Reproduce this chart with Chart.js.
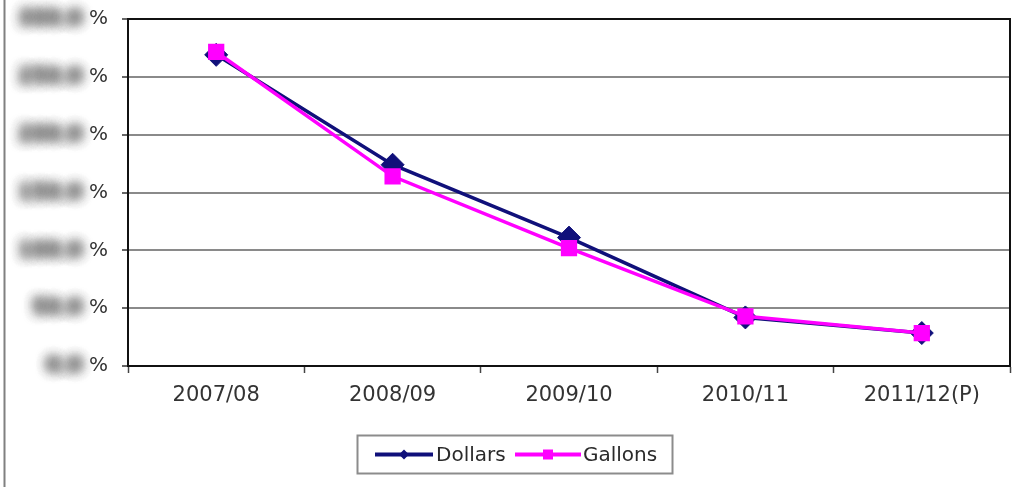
<!DOCTYPE html>
<html>
<head>
<meta charset="utf-8">
<script src="https://cdn.jsdelivr.net/npm/chart.js@4/dist/chart.umd.min.js"></script>
<style>
  html, body { margin: 0; padding: 0; background: #fff; }
  #wrap { width: 1016px; height: 487px; position: relative; }
</style>
</head>
<body>
<div id="wrap"><canvas id="c" width="1016" height="487"></canvas></div>
<script>
// Season labels and the two series (percent)
const seasons = ['2007/08', '2008/09', '2009/10', '2010/11', '2011/12(P)'];
const dollars = [269, 174, 111, 42, 28.5];
const gallons = [271.5, 164, 102, 43, 28.5];
const yTicks = [0, 50, 100, 150, 200, 250, 300];

const FONT = 'DejaVu Sans, Verdana, sans-serif';
const NAVY = '#10107a';
const MAGENTA = '#ff00ff';

// Frame, plot outline, softened y values and the boxed legend
const decorations = {
  id: 'decorations',
  afterDraw(chart) {
    const { ctx, chartArea: a, scales } = chart;
    ctx.save();

    // plot outline
    ctx.strokeStyle = '#111';
    ctx.lineWidth = 2;
    ctx.beginPath();
    ctx.moveTo(a.left, a.top);
    ctx.lineTo(a.right, a.top);
    ctx.lineTo(a.right, a.bottom);
    ctx.stroke();

    // left frame edge
    ctx.strokeStyle = '#808080';
    ctx.lineWidth = 2;
    ctx.beginPath();
    ctx.moveTo(4.5, 0);
    ctx.lineTo(4.5, 487);
    ctx.stroke();

    // y values, softened through a shadow cast from off-canvas text
    const SHIFT = 3000;
    ctx.font = 'bold 20px ' + FONT;
    ctx.textAlign = 'right';
    ctx.textBaseline = 'middle';
    ctx.fillStyle = '#000';
    ctx.shadowColor = 'rgba(110,110,110,0.9)';
    ctx.shadowBlur = 12;
    ctx.shadowOffsetX = SHIFT;
    ctx.shadowOffsetY = 0;
    yTicks.forEach(v => {
      const y = scales.y.getPixelForValue(v);
      for (let k = 0; k < 3; k++) ctx.fillText(v.toFixed(1), 82 - SHIFT, y);
    });
    ctx.shadowColor = 'transparent';
    ctx.shadowBlur = 0;
    ctx.shadowOffsetX = 0;

    // legend box
    const bx = 357.5, by = 435.5, bw = 315, bh = 38, cy = by + bh / 2;
    ctx.strokeStyle = '#8c8c8c';
    ctx.lineWidth = 2;
    ctx.strokeRect(bx, by, bw, bh);

    const ds = chart.data.datasets;
    const items = [
      { d: ds[0], x0: 375, x1: 433, tx: 436 },
      { d: ds[1], x0: 515, x1: 581, tx: 583 }
    ];
    ctx.font = '20px ' + FONT;
    ctx.textAlign = 'left';
    ctx.textBaseline = 'middle';
    items.forEach(it => {
      const col = it.d.borderColor;
      ctx.strokeStyle = col;
      ctx.lineWidth = 4;
      ctx.beginPath();
      ctx.moveTo(it.x0, cy);
      ctx.lineTo(it.x1, cy);
      ctx.stroke();
      const mx = (it.x0 + it.x1) / 2;
      ctx.fillStyle = col;
      ctx.beginPath();
      if (it.d.pointStyle === 'rectRot') {
        ctx.moveTo(mx - 5, cy);
        ctx.lineTo(mx, cy - 5);
        ctx.lineTo(mx + 5, cy);
        ctx.lineTo(mx, cy + 5);
        ctx.closePath();
      } else {
        ctx.rect(mx - 5, cy - 5, 10, 10);
      }
      ctx.fill();
      ctx.fillStyle = '#2a2a2a';
      ctx.fillText(it.d.label, it.tx, cy + 1);
    });

    ctx.restore();
  }
};

new Chart(document.getElementById('c'), {
  type: 'line',
  data: {
    labels: seasons,
    datasets: [
      {
        label: 'Dollars',
        data: dollars,
        borderColor: NAVY,
        backgroundColor: NAVY,
        borderWidth: 3.5,
        pointStyle: 'rectRot',
        pointRadius: 11.5,
        pointBorderWidth: 1,
        pointBorderColor: NAVY,
        pointBackgroundColor: NAVY,
        tension: 0,
        order: 1
      },
      {
        label: 'Gallons',
        data: gallons,
        borderColor: MAGENTA,
        backgroundColor: MAGENTA,
        borderWidth: 3.5,
        pointStyle: 'rect',
        pointRadius: 11.5,
        pointBorderWidth: 0,
        pointBackgroundColor: MAGENTA,
        tension: 0,
        order: 0
      }
    ]
  },
  options: {
    responsive: false,
    animation: false,
    devicePixelRatio: 1,
    layout: { autoPadding: false, padding: { top: 19, right: 6, left: 0, bottom: 0 } },
    plugins: {
      legend: { display: false },
      tooltip: { enabled: false }
    },
    scales: {
      x: {
        offset: true,
        grid: {
          offset: true,
          drawOnChartArea: false,
          drawTicks: true,
          tickLength: 7,
          tickColor: '#444',
          tickWidth: 1.5
        },
        border: { color: '#111', width: 2 },
        ticks: {
          font: { family: FONT, size: 21 },
          color: '#333',
          padding: 10,
          maxRotation: 0
        },
        afterFit(s) { s.height = 121; }
      },
      y: {
        min: 0,
        max: 300,
        afterBuildTicks(s) { s.ticks = yTicks.map(v => ({ value: v })); },
        grid: {
          color: '#8a8a8a',
          lineWidth: 2,
          tickLength: 6,
          tickColor: '#333',
          tickWidth: 1.5
        },
        border: { color: '#111', width: 2 },
        ticks: {
          callback: () => '%',
          font: { family: FONT, size: 20, lineHeight: 0.5 },
          color: '#333',
          padding: 14
        },
        afterFit(s) { s.width = 128; }
      }
    }
  },
  plugins: [decorations]
});
</script>
</body>
</html>
